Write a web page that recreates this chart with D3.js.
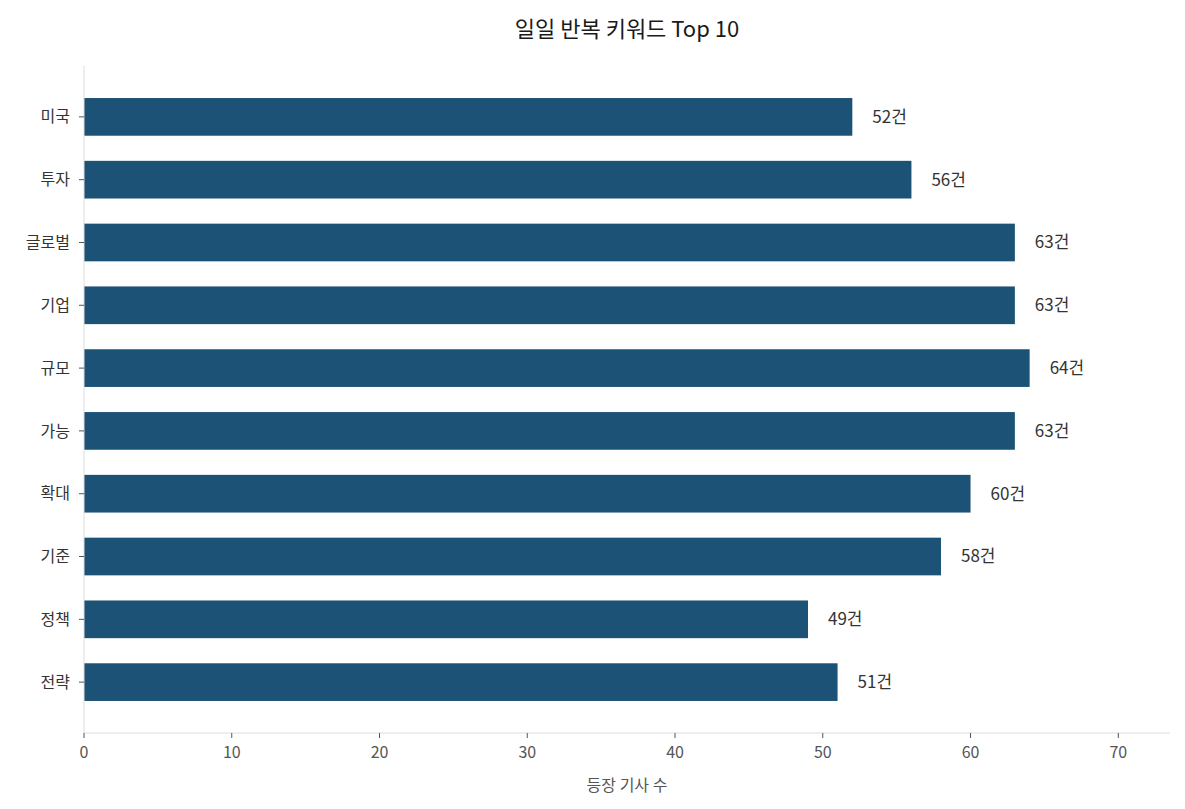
<!DOCTYPE html>
<html><head><meta charset="utf-8">
<script src="https://cdn.jsdelivr.net/npm/d3@7/dist/d3.min.js"></script>
<style>body{margin:0;background:#fff;font-family:"Noto Sans CJK KR","Noto Sans",sans-serif;}</style>
</head><body>
<svg id="c" width="1185" height="809"></svg>
<script>
const categories = ["미국","투자","글로벌","기업","규모","가능","확대","기준","정책","전략"];
const values = [52,56,63,63,64,63,60,58,49,51];
const xTicks = [0,10,20,30,40,50,60,70];
const title = "일일 반복 키워드 Top 10";
const xLabel = "등장 기사 수";
const unit = "건";

const svg = d3.select("#c");
const L=84, R=1170, T=66, B=733;
const x = d3.scaleLinear().domain([0, 73.5]).range([L, R]);
const y = d3.scaleLinear().domain([-0.81, 9.81]).range([T, B]);
const bh = (y(0.3)-y(-0.3));
const color="#1b5276", tc="#333";

svg.append("text").attr("x",627).attr("y",37).attr("text-anchor","middle")
  .attr("font-size",22).attr("fill","#1a1a1a").text(title);

svg.selectAll("rect.bar").data(values).join("rect").attr("class","bar")
  .attr("x",x(0)).attr("y",(d,i)=>y(i)-bh/2).attr("width",d=>x(d)-x(0)).attr("height",bh).attr("fill",color);

svg.selectAll("text.v").data(values).join("text").attr("class","v")
  .attr("x",d=>x(d)+20).attr("y",(d,i)=>y(i)).attr("dy","0.35em")
  .attr("font-size",17).attr("fill",tc).text(d=>d+unit);

// spines
svg.append("line").attr("x1",L).attr("x2",L).attr("y1",T).attr("y2",B).attr("stroke","#ddd");
svg.append("line").attr("x1",L).attr("x2",R).attr("y1",B).attr("y2",B).attr("stroke","#ddd");

const yt = svg.selectAll("g.yt").data(categories).join("g").attr("transform",(d,i)=>`translate(${L},${y(i)})`);
yt.append("line").attr("x1",-5).attr("x2",0).attr("stroke","#555");
yt.append("text").attr("x",-14).attr("dy","0.35em").attr("text-anchor","end").attr("font-size",16).attr("fill",tc).text(d=>d);

const xt = svg.selectAll("g.xt").data(xTicks).join("g").attr("transform",d=>`translate(${x(d)},${B})`);
xt.append("line").attr("y1",0).attr("y2",5).attr("stroke","#555");
xt.append("text").attr("y",25).attr("text-anchor","middle").attr("font-size",16).attr("fill","#555").text(d=>d);

svg.append("text").attr("x",627).attr("y",791).attr("text-anchor","middle").attr("font-size",16).attr("fill","#555").text(xLabel);
</script>
</body></html>
